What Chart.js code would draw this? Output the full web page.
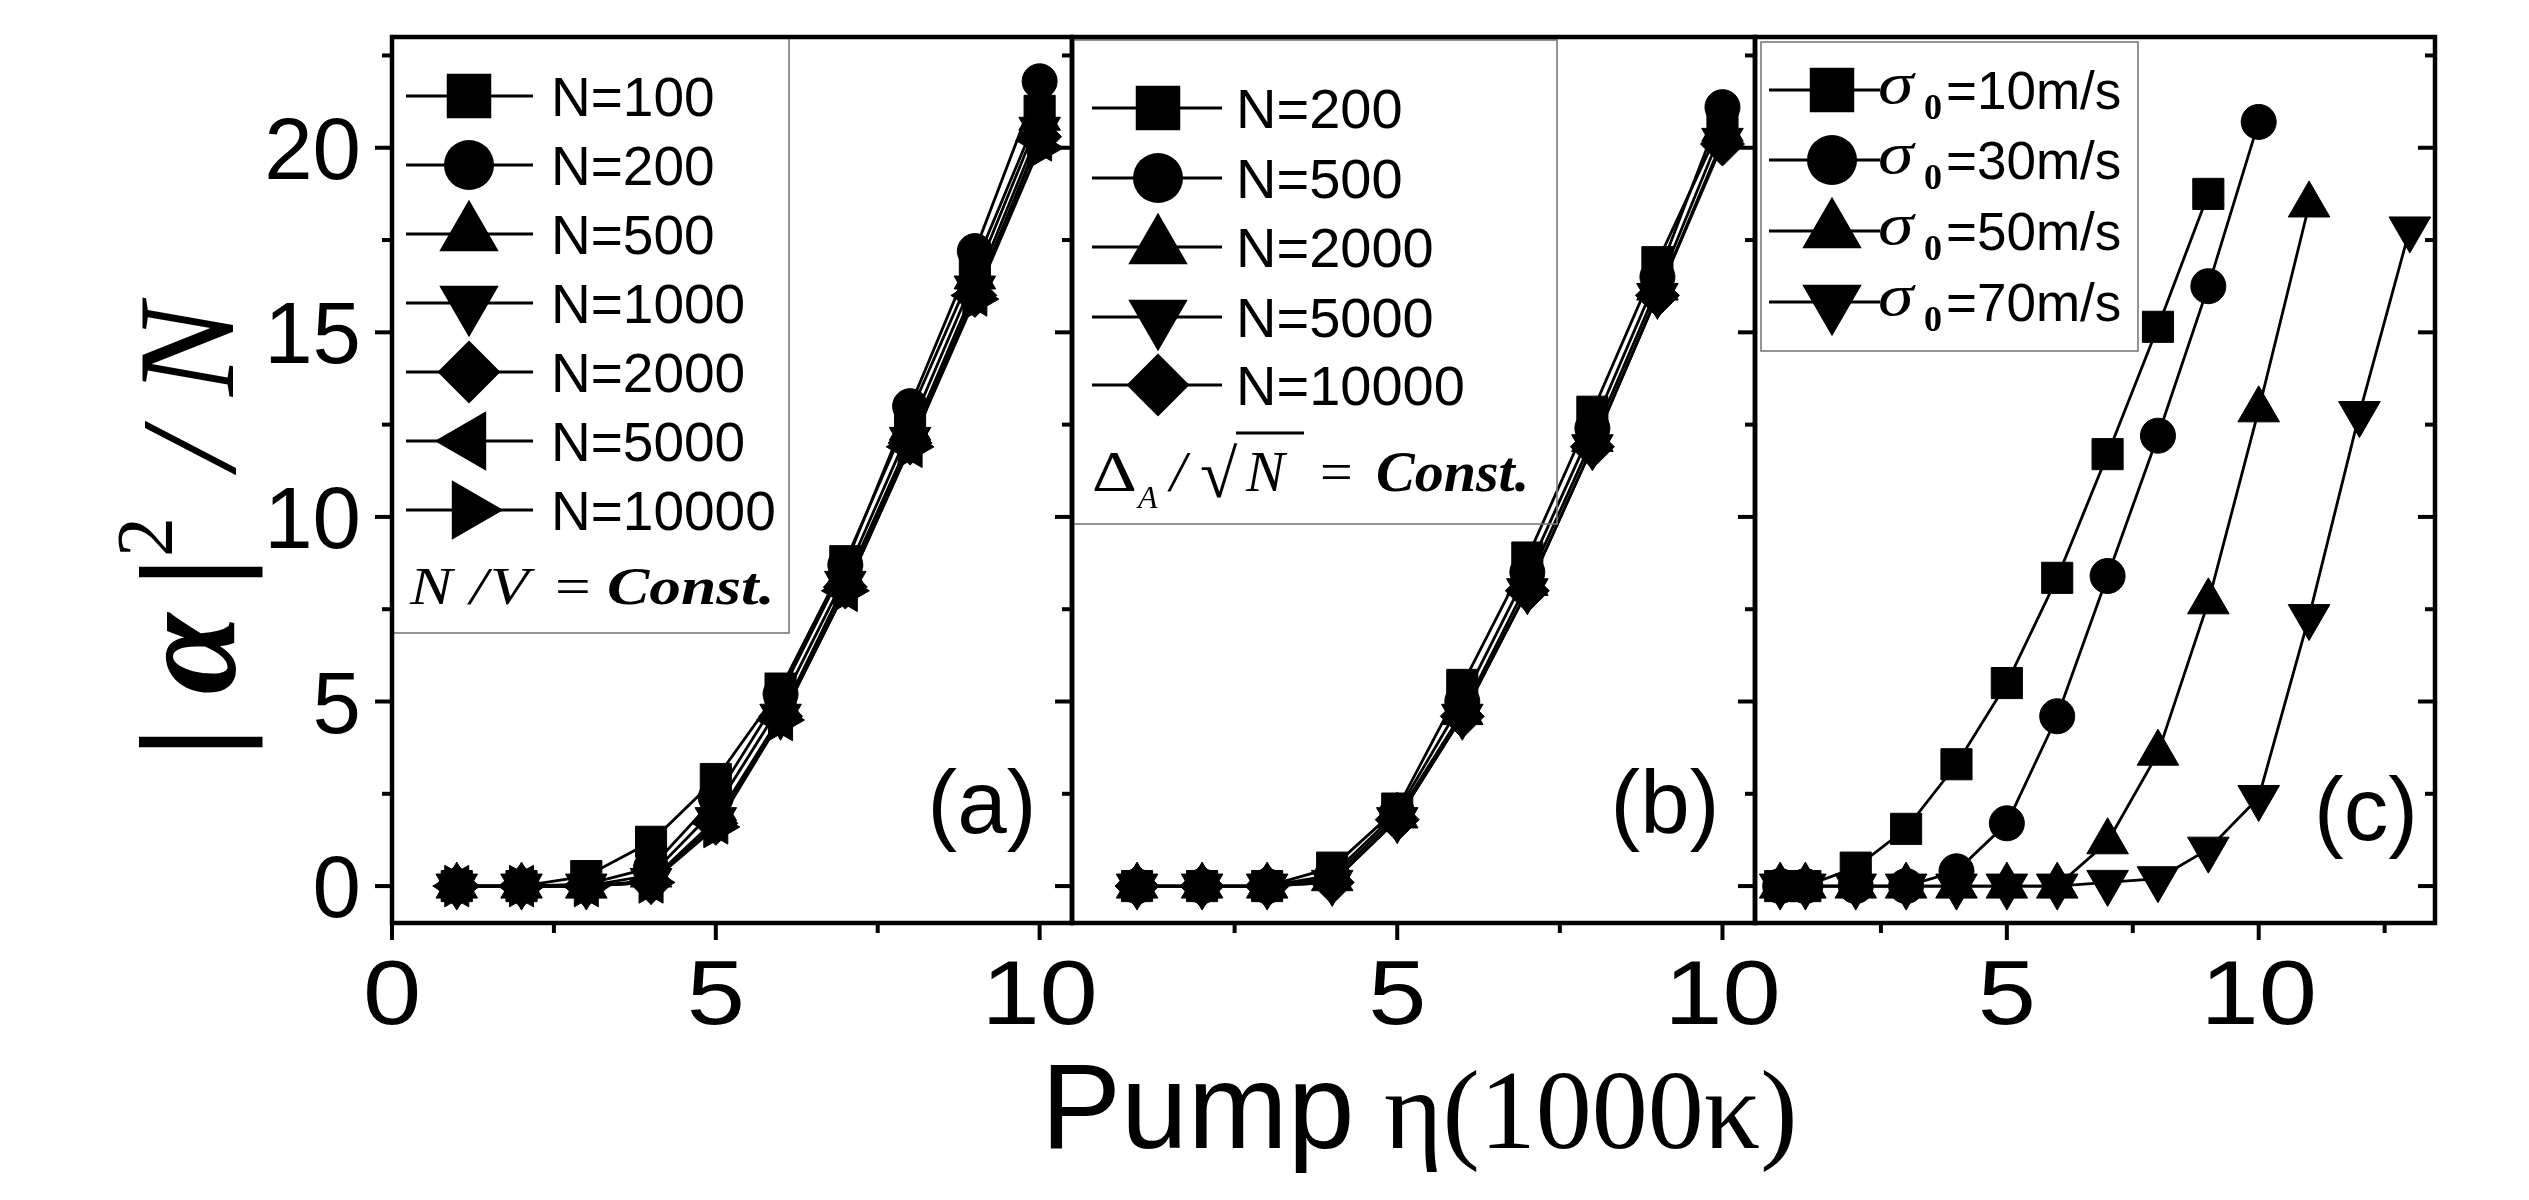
<!DOCTYPE html>
<html>
<head>
<meta charset="utf-8">
<title>|α|²/N vs Pump η</title>
<script src="https://cdn.jsdelivr.net/npm/chart.js@4.4.1/dist/chart.umd.min.js"></script>
<style>
  html, body { margin: 0; padding: 0; background: #fff; }
  #wrap { position: relative; width: 2529px; height: 1200px; }
  #wrap canvas { position: absolute; left: 0; top: 0; }
</style>
</head>
<body>
<div id="wrap">
  <canvas id="panelA" width="2529" height="1200"></canvas>
  <canvas id="panelB" width="2529" height="1200"></canvas>
  <canvas id="panelC" width="2529" height="1200"></canvas>
</div>
<script>
// PANEL (a)  N/V = Const.
const xA = [1, 2, 3, 4, 5, 6, 7, 8, 9, 10];
const aN100 = [0, 0, 0.27, 1.2, 2.9, 5.35, 8.8, 12.8, 16.8, 21.0];
const aN200 = [0, 0, 0.05, 0.5, 2.4, 5.2, 8.7, 13.0, 17.2, 21.8];
const aN500 = [0, 0, 0, 0.3, 2.1, 4.9, 8.4, 12.4, 16.5, 20.8];
const aN1000 = [0, 0, 0, 0.15, 1.8, 4.6, 8.2, 12.1, 16.2, 20.5];
const aN2000 = [0, 0, 0, 0.1, 1.7, 4.6, 8.1, 12.0, 16.0, 20.3];
const aN5000 = [0, 0, 0, 0.1, 1.7, 4.5, 8.0, 11.9, 16.0, 20.2];
const aN10000 = [0, 0, 0, 0.1, 1.6, 4.5, 8.0, 11.9, 15.9, 20.0];
const labelsA = ["N=100", "N=200", "N=500", "N=1000", "N=2000", "N=5000", "N=10000"];

// PANEL (b)  Δ_A/√N = Const.
const xB = [1, 2, 3, 4, 5, 6, 7, 8, 9, 10];
const bN200 = [0, 0, 0, 0.5, 2.1, 5.45, 8.9, 12.85, 16.9, 20.7];
const bN500 = [0, 0, 0, 0.3, 2.0, 5.0, 8.5, 12.4, 16.5, 21.1];
const bN2000 = [0, 0, 0, 0.2, 1.9, 4.7, 8.2, 12.1, 16.2, 20.5];
const bN5000 = [0, 0, 0, 0.1, 1.8, 4.6, 8.0, 11.9, 16.0, 20.2];
const bN10000 = [0, 0, 0, 0.1, 1.8, 4.6, 8.0, 11.9, 16.0, 20.1];
const labelsB = ["N=200", "N=500", "N=2000", "N=5000", "N=10000"];

// PANEL (c)  different σ0
const xC10 = [0.5, 1, 2, 3, 4, 5, 6, 7, 8, 9];
const c10 = [0, 0, 0.5, 1.55, 3.3, 5.5, 8.35, 11.7, 15.15, 18.75];
const xC30 = [0.5, 1, 2, 3, 4, 5, 6, 7, 8, 9, 10];
const c30 = [0, 0, 0, 0, 0.4, 1.7, 4.6, 8.4, 12.2, 16.25, 20.7];
const xC50 = [0.5, 1, 2, 3, 4, 5, 6, 7, 8, 9, 10, 11];
const c50 = [0, 0, 0, 0, 0, 0, 0, 1.2, 3.6, 7.7, 12.9, 18.45];
const xC70 = [0.5, 1, 2, 3, 4, 5, 6, 7, 8, 9, 10, 11, 12, 13];
const c70 = [0, 0, 0, 0, 0, 0, 0, 0.1, 0.2, 1.0, 2.4, 7.3, 12.8, 17.8];
const labelsC = ["=10m/s", "=30m/s", "=50m/s", "=70m/s"];

// axes
const yTicks = [0, 2.5, 5, 7.5, 10, 12.5, 15, 17.5, 20, 22.5];
const yTickLabels = [0, 5, 10, 15, 20];
const xTicksA = [0, 2.5, 5, 7.5, 10];
const xLabelsA = [0, 5, 10];
const xTicksB = [2.5, 5, 7.5, 10];
const xLabelsB = [5, 10];
const xTicksC = [2.5, 5, 7.5, 10, 12.5];
const xLabelsC = [5, 10];

const W = 2529, H = 1200, TOP = 37, BOTTOM = 923;
const SANS = "'Liberation Sans', Arial, sans-serif";
const SERIF = "'Liberation Serif', 'Times New Roman', serif";

const MARK = {
  square: { shape: "rect", rot: 0, r: 22 },
  circle: { shape: "circle", rot: 0, r: 17.5 },
  up: { shape: "triangle", rot: 0, r: 24 },
  down: { shape: "triangle", rot: 180, r: 24 },
  diamond: { shape: "rectRot", rot: 0, r: 22 },
  left: { shape: "triangle", rot: 270, r: 24 },
  right: { shape: "triangle", rot: 90, r: 24 },
};

function series(xs, ys, mark) {
  return {
    data: xs.map((x, i) => ({ x: x, y: ys[i] })),
    showLine: true,
    borderColor: "#000",
    borderWidth: 2.8,
    pointStyle: mark.shape,
    pointRotation: mark.rot,
    pointRadius: mark.r,
    pointHoverRadius: mark.r,
    pointBackgroundColor: "#000",
    pointBorderColor: "#000",
    pointBorderWidth: 1,
  };
}

function txt(ctx, s, x, y, font, align, sx) {
  ctx.save();
  ctx.font = font;
  ctx.textAlign = align || "left";
  ctx.textBaseline = "alphabetic";
  ctx.translate(x, y);
  if (sx) ctx.scale(sx, 1);
  ctx.fillText(s, 0, 0);
  ctx.restore();
}

function line(ctx, x1, y1, x2, y2) {
  ctx.beginPath();
  ctx.moveTo(x1, y1);
  ctx.lineTo(x2, y2);
  ctx.stroke();
}

function legendRow(ctx, mark, y, x1, x2, mx) {
  ctx.lineWidth = 3;
  line(ctx, x1, y, x2, y);
  Chart.helpers.drawPoint(ctx, {
    pointStyle: mark.shape, rotation: mark.rot, radius: mark.r * 1.43, borderWidth: 0,
  }, mx, y);
}

function legendBox(ctx, x1, y1, x2, y2) {
  ctx.save();
  ctx.strokeStyle = "#7a7a7a";
  ctx.lineWidth = 1.6;
  ctx.strokeRect(x1, y1, x2 - x1, y2 - y1);
  ctx.restore();
}

// frame, ticks, tick labels and the extra texts of one panel
function decor(cfg) {
  return {
    id: "panelDecor",
    afterDraw(chart) {
      const ctx = chart.ctx, a = chart.chartArea;
      const xs = chart.scales.x, ys = chart.scales.y;
      ctx.save();
      ctx.fillStyle = "#000";
      ctx.strokeStyle = "#000";
      if (cfg.legend) cfg.legend(ctx);
      ctx.strokeStyle = "#000";
      ctx.lineWidth = 4.5;
      ctx.strokeRect(a.left, a.top, a.right - a.left, a.bottom - a.top);
      ctx.lineWidth = 4;
      cfg.xTicks.forEach(v => {
        const px = xs.getPixelForValue(v);
        line(ctx, px, a.bottom, px, a.bottom + (v % 5 === 0 ? 17 : 10));
      });
      yTicks.forEach(v => {
        const py = ys.getPixelForValue(v);
        const len = v % 5 === 0 ? 17 : 10;
        line(ctx, a.left - len, py, a.left, py);
        if (cfg.rightTicks) line(ctx, a.right - len, py, a.right, py);
      });
      cfg.xLabels.forEach(v => {
        txt(ctx, String(v), xs.getPixelForValue(v), 1024, "91px " + SANS, "center", 1.15);
      });
      if (cfg.yLabels) {
        yTickLabels.forEach(v => {
          txt(ctx, String(v), 361, ys.getPixelForValue(v) + 31, "87px " + SANS, "right");
        });
      }
      txt(ctx, cfg.tag, cfg.tagX, cfg.tagY, "89px " + SANS, "center");
      if (cfg.extra) cfg.extra(ctx);
      ctx.restore();
    },
  };
}

function makeChart(id, left, right, xMax, datasets, plugin) {
  return new Chart(document.getElementById(id), {
    type: "scatter",
    data: { datasets: datasets },
    options: {
      responsive: false,
      animation: false,
      devicePixelRatio: 1,
      events: [],
      layout: { padding: { left: left, right: W - right, top: TOP, bottom: H - BOTTOM } },
      scales: {
        x: { type: "linear", display: false, min: 0, max: xMax },
        y: { type: "linear", display: false, min: -1, max: 23 },
      },
      plugins: { legend: { display: false }, tooltip: { enabled: false } },
    },
    plugins: [plugin],
  });
}

// ---- panel (a)
const marksA = [MARK.square, MARK.circle, MARK.up, MARK.down, MARK.diamond, MARK.left, MARK.right];
const seriesA = [aN100, aN200, aN500, aN1000, aN2000, aN5000, aN10000];

makeChart("panelA", 392, 1072, 10.5,
  seriesA.map((ys, i) => series(xA, ys, marksA[i])),
  decor({
    xTicks: xTicksA, xLabels: xLabelsA, yLabels: true, tag: "(a)", tagX: 982, tagY: 833,
    legend(ctx) {
      legendBox(ctx, 392, 38, 789, 633);
      labelsA.forEach((lab, i) => {
        const y = 96 + 69 * i;
        legendRow(ctx, marksA[i], y, 406, 533, 469);
        txt(ctx, lab, 551, y + 20, "55px " + SANS);
      });
      const f = 52, sx = 1.22;
      txt(ctx, "N", 410, 604, "italic " + f + "px " + SERIF, "left", sx);
      txt(ctx, "/", 470, 604, "italic " + f + "px " + SERIF, "left", sx);
      txt(ctx, "V", 490, 604, "italic " + f + "px " + SERIF, "left", sx);
      txt(ctx, "=", 555, 604, f + "px " + SERIF, "left", sx);
      txt(ctx, "Const.", 607, 604, "italic bold " + f + "px " + SERIF, "left", sx);
    },
    extra(ctx) {
      // y title |α|² / N, reading upwards
      const glyph = (s, font, yc, base) => {
        ctx.save();
        ctx.translate(base, yc);
        ctx.rotate(-Math.PI / 2);
        ctx.font = font;
        ctx.textAlign = "center";
        ctx.textBaseline = "alphabetic";
        ctx.fillText(s, 0, 0);
        ctx.restore();
      };
      glyph("|", "131px " + SANS, 742, 235);
      glyph("α", "italic bold 146px " + SERIF, 654, 235);
      glyph("|", "131px " + SANS, 572, 235);
      glyph("2", "80px " + SERIF, 537, 172);
      glyph("/", "italic 136px " + SERIF, 450, 235);
      glyph("N", "italic 138px " + SERIF, 350, 233);
      // x title
      txt(ctx, "Pump", 1041, 1148, "120px " + SANS);
      txt(ctx, "η(1000κ)", 1384, 1148, "112px " + SERIF);
    },
  })
);

// ---- panel (b)
const marksB = [MARK.square, MARK.circle, MARK.up, MARK.down, MARK.diamond];
const seriesB = [bN200, bN500, bN2000, bN5000, bN10000];

makeChart("panelB", 1072, 1755, 10.5,
  seriesB.map((ys, i) => series(xB, ys, marksB[i])),
  decor({
    xTicks: xTicksB, xLabels: xLabelsB, tag: "(b)", tagX: 1665, tagY: 833,
    legend(ctx) {
      legendBox(ctx, 1072, 40, 1557, 524);
      labelsB.forEach((lab, i) => {
        const y = [108, 178, 247, 317, 385][i];
        legendRow(ctx, marksB[i], y, 1092, 1222, 1158);
        txt(ctx, lab, 1236, y + 20, "56px " + SANS);
      });
      const base = 491;
      txt(ctx, "Δ", 1092, base, "58px " + SERIF, "left", 1.2);
      txt(ctx, "A", 1138, 508, "italic 32px " + SERIF);
      txt(ctx, "/", 1170, base, "italic 58px " + SERIF);
      txt(ctx, "√", 1200, 497, "68px " + SERIF);
      ctx.lineWidth = 3;
      line(ctx, 1236, 433, 1304, 433);
      txt(ctx, "N", 1246, base, "italic 58px " + SERIF);
      txt(ctx, "=", 1320, base, "58px " + SERIF);
      txt(ctx, "Const.", 1376, base, "italic bold 58px " + SERIF);
    },
  })
);

// ---- panel (c)
const marksC = [MARK.square, MARK.circle, MARK.up, MARK.down];

makeChart("panelC", 1755, 2435, 13.5,
  [series(xC10, c10, MARK.square), series(xC30, c30, MARK.circle),
   series(xC50, c50, MARK.up), series(xC70, c70, MARK.down)],
  decor({
    xTicks: xTicksC, xLabels: xLabelsC, rightTicks: true, tag: "(c)", tagX: 2366, tagY: 840,
    legend(ctx) {
      legendBox(ctx, 1761, 42, 2138, 351);
      labelsC.forEach((lab, i) => {
        const y = [90, 160, 231, 302][i];
        legendRow(ctx, marksC[i], y, 1769, 1880, 1832);
        txt(ctx, "σ", 1878, y + 13, "italic 60px " + SERIF, "left", 1.2);
        txt(ctx, "0", 1924, y + 29, "bold 36px " + SERIF);
        txt(ctx, lab, 1946, y + 19, "53px " + SANS);
      });
    },
  })
);
</script>
</body>
</html>
